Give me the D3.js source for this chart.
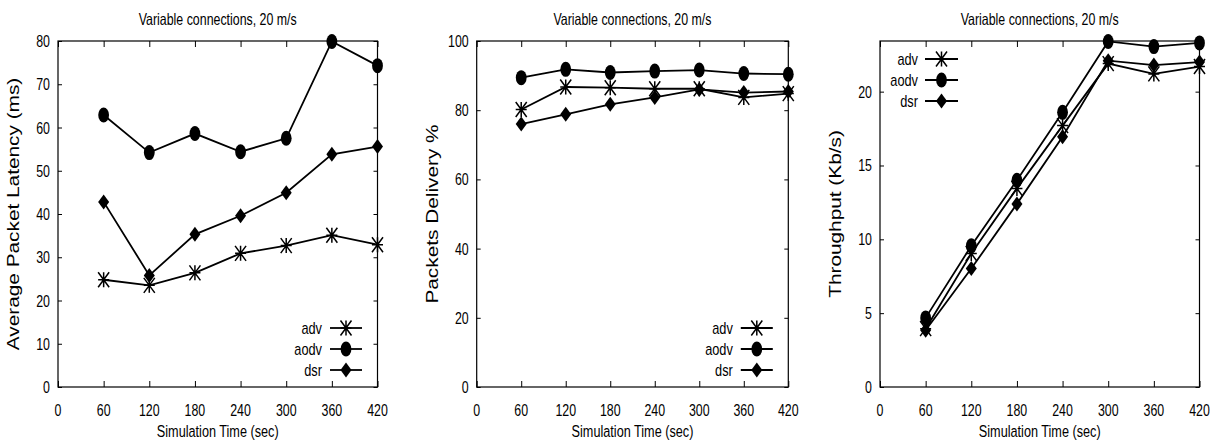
<!DOCTYPE html>
<html>
<head>
<meta charset="utf-8">
<script src="https://cdn.jsdelivr.net/npm/d3@7"></script>
<style>
  html, body { margin: 0; padding: 0; background: #fff; }
  svg { display: block; }
  text { font-family: "Liberation Sans", Arial, Helvetica, sans-serif; fill: #000; }
</style>
</head>
<body>
<svg id="chart" width="1216" height="443"></svg>
<script>
// ---------- data ----------
const times = [60, 120, 180, 240, 300, 360, 420];
const xTicks = [0, 60, 120, 180, 240, 300, 360, 420];
const seriesNames = ["adv", "aodv", "dsr"];
const title = "Variable connections, 20 m/s";
const xLabel = "Simulation Time (sec)";

// Panel 1: latency
const latencyAdv  = [24.8, 23.5, 26.4, 30.9, 32.7, 35.1, 32.9];
const latencyAodv = [62.9, 54.2, 58.6, 54.4, 57.5, 79.9, 74.3];
const latencyDsr  = [42.8, 25.8, 35.3, 39.6, 44.9, 53.8, 55.6];
const latencyTicks = [0, 10, 20, 30, 40, 50, 60, 70, 80];

// Panel 2: delivery
const deliveryAdv  = [80.2, 86.7, 86.5, 86.2, 86.2, 83.7, 84.8];
const deliveryAodv = [89.4, 91.8, 90.9, 91.3, 91.6, 90.6, 90.4];
const deliveryDsr  = [76.0, 78.8, 81.7, 83.7, 86.0, 85.1, 85.4];
const deliveryTicks = [0, 20, 40, 60, 80, 100];

// Panel 3: throughput
const throughputAdv  = [3.95, 9.04, 13.45, 17.7, 21.9, 21.2, 21.7];
const throughputAodv = [4.68, 9.56, 14.0, 18.6, 23.4, 23.05, 23.3];
const throughputDsr  = [3.84, 8.02, 12.4, 16.95, 22.1, 21.8, 22.0];
const throughputTicks = [0, 5, 10, 15, 20];

const panels = [
  { x0: 58, x1: 377.5, ymax: 80, yTicks: latencyTicks, yLabel: "Average Packet Latency (ms)",
    series: [latencyAdv, latencyAodv, latencyDsr], legend: "bottomright" },
  { x0: 476.7, x1: 788.3, ymax: 100, yTicks: deliveryTicks, yLabel: "Packets Delivery %",
    series: [deliveryAdv, deliveryAodv, deliveryDsr], legend: "bottomright" },
  { x0: 880, x1: 1199.5, ymax: 23.43, yTicks: throughputTicks, yLabel: "Throughput (Kb/s)",
    series: [throughputAdv, throughputAodv, throughputDsr], legend: "topleft" }
];

const plotTop = 41, plotBottom = 387;
const svg = d3.select("#chart");
const H_FONT = 16.5, H_SX = 0.75;   // horizontal text: condensed look
const V_FONT = 16, V_SX = 1.3;      // rotated text: stretched look

function hText(g, x, y, str, anchor, size) {
  return g.append("text").attr("x", x).attr("y", y).attr("text-anchor", anchor)
    .attr("font-size", size || H_FONT).attr("data-sx", H_SX).text(str);
}

function marker(g, type, cx, cy) {
  const m = g.append("g").attr("transform", `translate(${cx},${cy})`);
  if (type === 0) {
    const p = "M0,-7.5L0,7.5M-5.5,0L5.5,0M-5.5,-7.5L5.5,7.5M-5.5,7.5L5.5,-7.5";
    m.append("path").attr("d", p).attr("stroke", "#000").attr("stroke-width", 1.5).attr("fill", "none");
  } else if (type === 1) {
    m.append("ellipse").attr("rx", 5.4).attr("ry", 7.5).attr("fill", "#000");
  } else {
    m.append("path").attr("d", "M0,-7.5L5.5,0L0,7.5L-5.5,0Z").attr("fill", "#000");
  }
}

panels.forEach(p => {
  const g = svg.append("g");
  const x = d3.scaleLinear().domain([0, 420]).range([p.x0, p.x1]);
  const y = d3.scaleLinear().domain([0, p.ymax]).range([plotBottom, plotTop]);

  // frame
  g.append("rect").attr("x", p.x0).attr("y", plotTop).attr("width", p.x1 - p.x0).attr("height", plotBottom - plotTop)
    .attr("fill", "none").attr("stroke", "#000").attr("stroke-width", 1.2);

  // axes with inward ticks (mirrored)
  const axB = d3.axisBottom(x).tickValues(xTicks).tickSize(-6).tickFormat("");
  const axT = d3.axisTop(x).tickValues(xTicks).tickSize(-6).tickFormat("");
  const axL = d3.axisLeft(y).tickValues(p.yTicks).tickSize(-4).tickFormat("");
  const axR = d3.axisRight(y).tickValues(p.yTicks).tickSize(-4).tickFormat("");
  [[axB, `translate(0,${plotBottom})`], [axT, `translate(0,${plotTop})`],
   [axL, `translate(${p.x0},0)`], [axR, `translate(${p.x1},0)`]].forEach(([ax, tr]) => {
    const a = g.append("g").attr("transform", tr).call(ax);
    a.select(".domain").remove();
    a.selectAll("line").attr("stroke", "#000").attr("stroke-width", 1);
  });

  // tick labels
  xTicks.forEach(t => hText(g, x(t), 416, String(t), "middle"));
  p.yTicks.forEach(t => hText(g, p.x0 - 8, y(t) + 6, String(t), "end"));

  // title and x label
  hText(g, (p.x0 + p.x1) / 2, 25, title, "middle");
  hText(g, (p.x0 + p.x1) / 2, 437, xLabel, "middle", 16.9);

  // y label (rotated)
  const cy = (plotTop + plotBottom) / 2, bx = p.x0 - 39;
  g.append("text").attr("transform", `translate(${bx},${cy}) rotate(-90)`)
    .attr("text-anchor", "middle").attr("font-size", V_FONT).attr("data-sx", V_SX).text(p.yLabel);

  // series
  const line = d3.line().x((d, i) => x(times[i])).y(d => y(d));
  p.series.forEach((vals, si) => {
    g.append("path").datum(vals).attr("d", line).attr("fill", "none")
      .attr("stroke", "#000").attr("stroke-width", 1.8);
    vals.forEach((v, i) => marker(g, si, x(times[i]), y(v)));
  });

  // legend
  seriesNames.forEach((name, si) => {
    let tx, l0, l1, ly;
    if (p.legend === "bottomright") {
      tx = p.x1 - 55.5; l0 = p.x1 - 47.5; l1 = p.x1 - 15.5; ly = plotBottom - 59 + si * 21;
    } else {
      tx = p.x0 + 38; l0 = p.x0 + 45; l1 = p.x0 + 78; ly = plotTop + 18 + si * 21;
    }
    hText(g, tx, ly + 6, name, "end", 17);
    g.append("line").attr("x1", l0).attr("x2", l1).attr("y1", ly).attr("y2", ly)
      .attr("stroke", "#000").attr("stroke-width", 1.8);
    marker(g, si, (l0 + l1) / 2, ly);
  });
});

// apply condensed / stretched text widths
svg.selectAll("text[data-sx]").each(function () {
  const sx = +this.getAttribute("data-sx");
  const w = this.getComputedTextLength();
  this.setAttribute("textLength", (w * sx).toFixed(2));
  this.setAttribute("lengthAdjust", "spacingAndGlyphs");
});
</script>
</body>
</html>
